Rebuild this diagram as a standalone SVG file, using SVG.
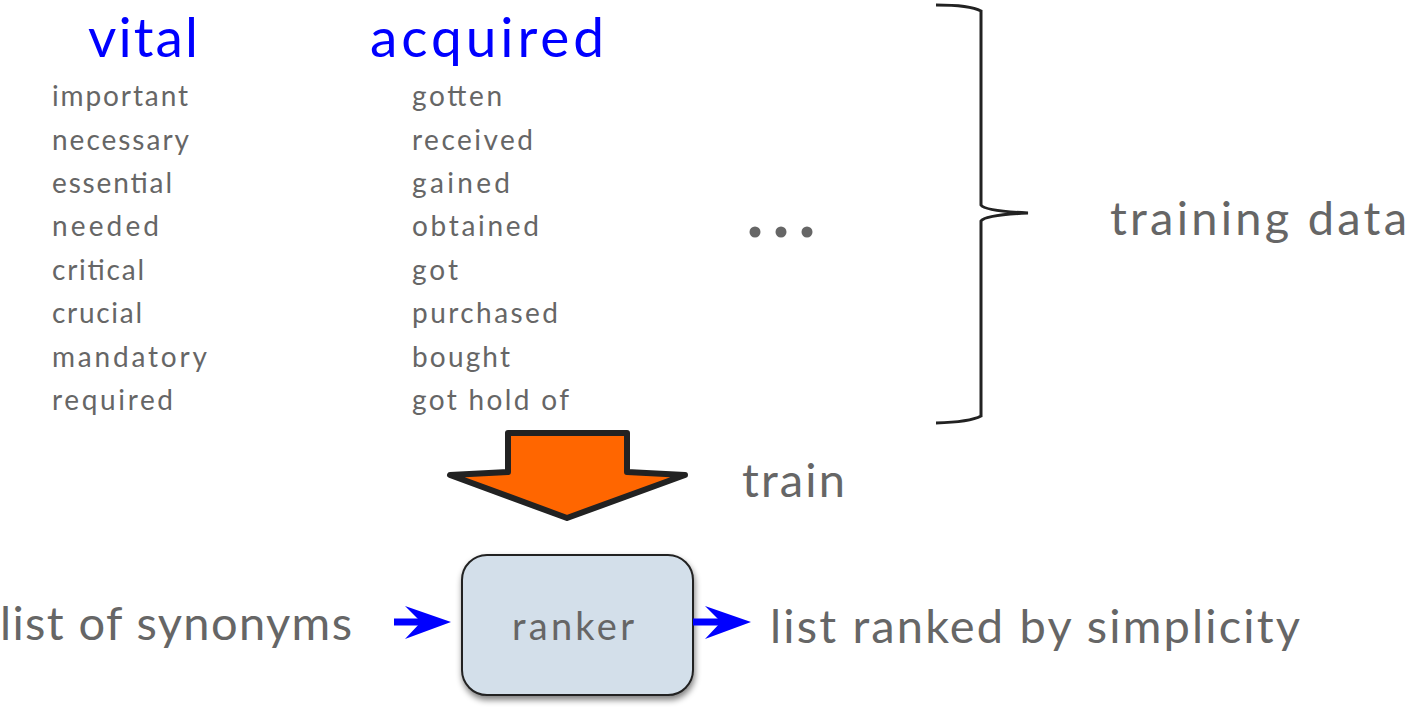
<svg xmlns="http://www.w3.org/2000/svg" width="1409" height="707" viewBox="0 0 1409 707">
<defs>
<style>
.t{font-family:Lato,"Open Sans",sans-serif;fill:#666}
.s{font-size:28px}
.h{font-family:Lato,"Open Sans",sans-serif;fill:#0000ff;font-size:55px}
.b{font-size:47px}
</style>
<filter id="sh" x="-10%" y="-10%" width="130%" height="130%"><feGaussianBlur in="SourceAlpha" stdDeviation="3"/><feOffset dx="1" dy="4"/><feComponentTransfer><feFuncA type="linear" slope="0.5"/></feComponentTransfer><feMerge><feMergeNode/><feMergeNode in="SourceGraphic"/></feMerge></filter>
<path id="ah" d="M0,0 L-46,-16 L-30,0 L-46,17 Z" fill="#0000ff"/>
</defs>
<rect width="1409" height="707" fill="#fff"/>
<g id="vital">
<text class="h" x="88" y="57" textLength="110" lengthAdjust="spacing">vital</text>
<text class="t s" x="52" y="106" textLength="136" lengthAdjust="spacing">important</text>
<text class="t s" x="52" y="150" textLength="137" lengthAdjust="spacing">necessary</text>
<text class="t s" x="52" y="193" textLength="120" lengthAdjust="spacing">essential</text>
<text class="t s" x="52" y="236" textLength="107" lengthAdjust="spacing">needed</text>
<text class="t s" x="52" y="280" textLength="92" lengthAdjust="spacing">critical</text>
<text class="t s" x="52" y="323" textLength="90" lengthAdjust="spacing">crucial</text>
<text class="t s" x="52" y="367" textLength="155" lengthAdjust="spacing">mandatory</text>
<text class="t s" x="52" y="410" textLength="121" lengthAdjust="spacing">required</text>
</g>
<g id="acquired">
<text class="h" x="370" y="57" textLength="234" lengthAdjust="spacing">acquired</text>
<text class="t s" x="412" y="106" textLength="90" lengthAdjust="spacing">gotten</text>
<text class="t s" x="412" y="150" textLength="121" lengthAdjust="spacing">received</text>
<text class="t s" x="412" y="193" textLength="98" lengthAdjust="spacing">gained</text>
<text class="t s" x="412" y="236" textLength="127" lengthAdjust="spacing">obtained</text>
<text class="t s" x="412" y="280" textLength="46" lengthAdjust="spacing">got</text>
<text class="t s" x="412" y="323" textLength="146" lengthAdjust="spacing">purchased</text>
<text class="t s" x="412" y="367" textLength="98" lengthAdjust="spacing">bought</text>
<text class="t s" x="412" y="410" textLength="157" lengthAdjust="spacing">got hold of</text>
</g>
<g id="ellipsis" fill="#666">
<circle cx="755" cy="232" r="5.5"/><circle cx="781" cy="232" r="5.5"/><circle cx="807" cy="232" r="5.5"/>
</g>
<g id="brace">
<path d="M936,5 Q970,5 981,11 L981,205 Q985,211 1028,213 Q985,215 981,221 L981,416 Q970,422 936,423" fill="none" stroke="#222" stroke-width="3"/>
<text class="t b" x="1110" y="235" textLength="297" lengthAdjust="spacing">training data</text>
</g>
<g id="train">
<path d="M508,433 L627,433 L627,472 L685,475 L567,518 L450,475 L508,472 Z" fill="#ff6600" stroke="#222" stroke-width="6" stroke-linejoin="round"/>
<text class="t b" x="742" y="497" textLength="103" lengthAdjust="spacing">train</text>
</g>
<g id="ranker">
<rect x="462" y="555" width="231" height="140" rx="25" fill="#d3dfea" stroke="#222" stroke-width="2" filter="url(#sh)"/>
<text class="t" x="512" y="640" font-size="38" textLength="122" lengthAdjust="spacing">ranker</text>
</g>
<g id="input"><text class="t b" x="0" y="640" textLength="352" lengthAdjust="spacing">list of synonyms</text></g>
<g id="output"><text class="t b" x="770" y="643" textLength="530" lengthAdjust="spacing">list ranked by simplicity</text></g>
<g id="connectors">
<rect x="394" y="618.5" width="32" height="7" fill="#0000ff"/>
<use href="#ah" x="451" y="622"/>
<rect x="693" y="618.5" width="30" height="7" fill="#0000ff"/>
<use href="#ah" x="751" y="622"/>
</g>
</svg>
